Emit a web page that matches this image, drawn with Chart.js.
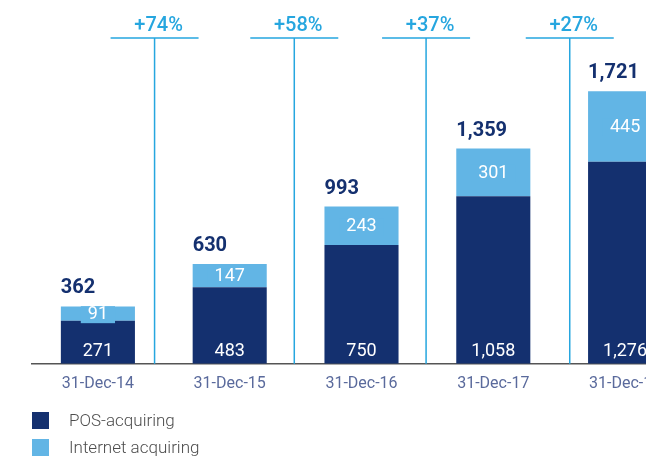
<!DOCTYPE html>
<html>
<head>
<meta charset="utf-8">
<script src="https://cdn.jsdelivr.net/npm/chart.js@4/dist/chart.umd.min.js"></script>
<style>
  html, body { margin: 0; padding: 0; background: #fff; overflow: hidden; }
  #wrap { position: relative; width: 646px; height: 459px; overflow: hidden; }
  #chart { position: absolute; left: 0; top: 0; }
  #legend { position: absolute; left: 32px; top: 407px; font-family: Roboto, sans-serif; font-weight: 300; font-size: 17px; color: #4d4d4d; }
  .item { display: flex; align-items: center; height: 26px; margin-bottom: 1px; }
  .sw { width: 17px; height: 17px; margin-right: 20px; }
</style>
</head>
<body>
<div id="wrap">
  <canvas id="chart" width="700" height="459"></canvas>
  <div id="legend"></div>
</div>
<script>
// Acquiring turnover by year-end
const categories = ['31-Dec-14', '31-Dec-15', '31-Dec-16', '31-Dec-17', '31-Dec-18'];
const posAcquiring = [271, 483, 750, 1058, 1276];
const internetAcquiring = [91, 147, 243, 301, 445];
const seriesNames = ['POS-acquiring', 'Internet acquiring'];

const DARK = '#14306f';
const LIGHT = '#62b5e5';
const GROWTH = '#26a6df';
const FONT = 'Roboto, sans-serif';

const fmt = v => v.toLocaleString('en-US');
const totals = posAcquiring.map((v, i) => v + internetAcquiring[i]);

// Value labels, totals and year-on-year growth markers
const labelsPlugin = {
  id: 'barLabels',
  afterDatasetsDraw(chart, args, opts) {
    const ctx = chart.ctx;
    const x = chart.scales.x, y = chart.scales.y;
    const base = y.getPixelForValue(0);
    const posMeta = chart.getDatasetMeta(0);
    const netMeta = chart.getDatasetMeta(1);
    ctx.save();

    posMeta.data.forEach((bar, i) => {
      // POS value near the bottom of the bar
      ctx.font = '400 18px ' + FONT;
      ctx.fillStyle = '#ffffff';
      ctx.textAlign = 'center';
      ctx.textBaseline = 'middle';
      ctx.fillText(fmt(posAcquiring[i]), bar.x, base - 12);

      // Internet value centred in its segment, on its own light box
      const seg = netMeta.data[i];
      const cy = (seg.y + seg.base) / 2 + 1;
      const txt = fmt(internetAcquiring[i]);
      const w = ctx.measureText(txt).width + 14;
      ctx.fillStyle = LIGHT;
      ctx.fillRect(seg.x - w / 2, cy - 8.5, w, 17);
      ctx.fillStyle = '#ffffff';
      ctx.fillText(txt, seg.x, cy);

      // Total above the stack, aligned with the bar's left edge
      ctx.font = 'bold 20px ' + FONT;
      ctx.fillStyle = DARK;
      ctx.textAlign = 'left';
      ctx.textBaseline = 'alphabetic';
      ctx.fillText(fmt(totals[i]), seg.x - seg.width / 2, seg.y - 13);
    });

    // Growth markers between consecutive years
    const top = chart.chartArea.top - 9;
    opts.anchors.forEach((a, k) => {
      const gx = x.getPixelForValue(a);
      const pct = Math.round((totals[k + 1] / totals[k] - 1) * 100);
      ctx.strokeStyle = GROWTH;
      ctx.lineWidth = 1.5;
      ctx.beginPath();
      ctx.moveTo(gx - 44, top);
      ctx.lineTo(gx + 44, top);
      ctx.moveTo(gx, top);
      ctx.lineTo(gx, base);
      ctx.stroke();
      ctx.font = '500 20px ' + FONT;
      ctx.fillStyle = GROWTH;
      ctx.textAlign = 'center';
      ctx.textBaseline = 'alphabetic';
      ctx.fillText('+' + pct + '%', gx + 4, top - 7);
    });
    ctx.restore();
  }
};

const chart = new Chart(document.getElementById('chart'), {
  type: 'bar',
  data: {
    labels: categories,
    datasets: [
      { label: seriesNames[0], data: posAcquiring, backgroundColor: DARK },
      { label: seriesNames[1], data: internetAcquiring, backgroundColor: LIGHT }
    ]
  },
  options: {
    responsive: false,
    devicePixelRatio: 1,
    animation: false,
    layout: { padding: { left: 32, right: 9, top: 47, bottom: 62 } },
    datasets: { bar: { categoryPercentage: 1, barPercentage: 0.562 } },
    plugins: {
      legend: { display: false },
      tooltip: { enabled: false },
      barLabels: { anchors: [0.43, 1.49, 2.49, 3.58] }
    },
    scales: {
      x: {
        stacked: true,
        grid: { display: false },
        border: { display: true, color: '#555555', width: 1.5 },
        ticks: { color: '#5a6a9c', padding: 3, font: { family: FONT, size: 16, weight: 400 } }
      },
      y: { stacked: true, display: false, min: 0, max: 2000 }
    }
  },
  plugins: [labelsPlugin]
});

// Legend built from the datasets
const legend = document.getElementById('legend');
chart.data.datasets.forEach(ds => {
  const item = document.createElement('div');
  item.className = 'item';
  const sw = document.createElement('span');
  sw.className = 'sw';
  sw.style.background = ds.backgroundColor;
  const t = document.createElement('span');
  t.textContent = ds.label;
  item.appendChild(sw);
  item.appendChild(t);
  legend.appendChild(item);
});
</script>
</body>
</html>
